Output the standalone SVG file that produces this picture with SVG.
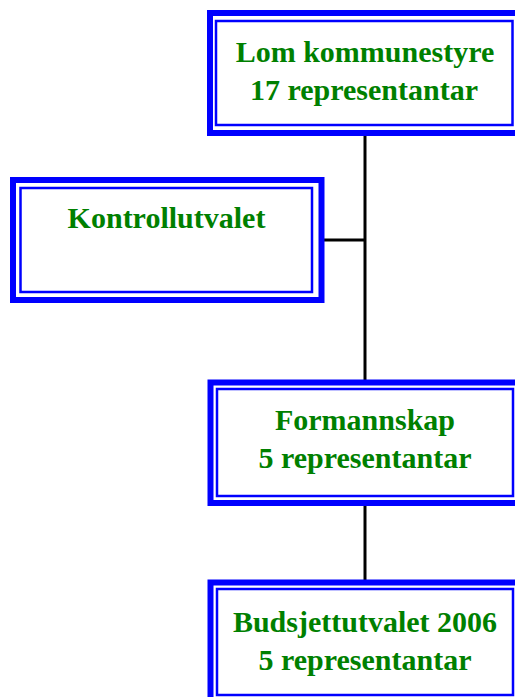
<svg xmlns="http://www.w3.org/2000/svg" width="515" height="697" viewBox="0 0 515 697">
<style>
.outer{fill:#fff;stroke:#0000ff;stroke-width:6}
.inner{fill:none;stroke:#0000ff;stroke-width:2.5}
.t{font-family:"Liberation Serif",serif;font-weight:bold;font-size:30px;fill:#008000;text-anchor:middle}
.c{stroke:#000;stroke-width:3;fill:none}
</style>
<rect width="515" height="697" fill="#fff"/>
<g id="connectors">
<line class="c" x1="365" y1="136" x2="365" y2="380"/>
<line class="c" x1="324" y1="240" x2="365" y2="240"/>
<line class="c" x1="365" y1="506" x2="365" y2="580"/>
</g>
<g id="kommunestyre">
<rect class="outer" x="210" y="13" width="320" height="120"/>
<rect class="inner" x="216" y="21" width="296.5" height="104"/>
<text class="t" x="365" y="62">Lom kommunestyre</text>
<text class="t" x="364" y="100">17 representantar</text>
</g>
<g id="kontrollutvalet">
<rect class="outer" x="13" y="180" width="308.5" height="120"/>
<rect class="inner" x="20.5" y="188" width="291.5" height="104"/>
<text class="t" x="166.5" y="228">Kontrollutvalet</text>
</g>
<g id="formannskap">
<rect class="outer" x="210.5" y="382.5" width="320" height="120.5"/>
<rect class="inner" x="217" y="389" width="296" height="107"/>
<text class="t" x="365" y="430">Formannskap</text>
<text class="t" x="365" y="468">5 representantar</text>
</g>
<g id="budsjettutvalet">
<rect class="outer" x="210.5" y="582.5" width="320" height="120"/>
<rect class="inner" x="217" y="589" width="296" height="106"/>
<text class="t" x="365" y="632">Budsjettutvalet 2006</text>
<text class="t" x="365" y="670">5 representantar</text>
</g>
</svg>
